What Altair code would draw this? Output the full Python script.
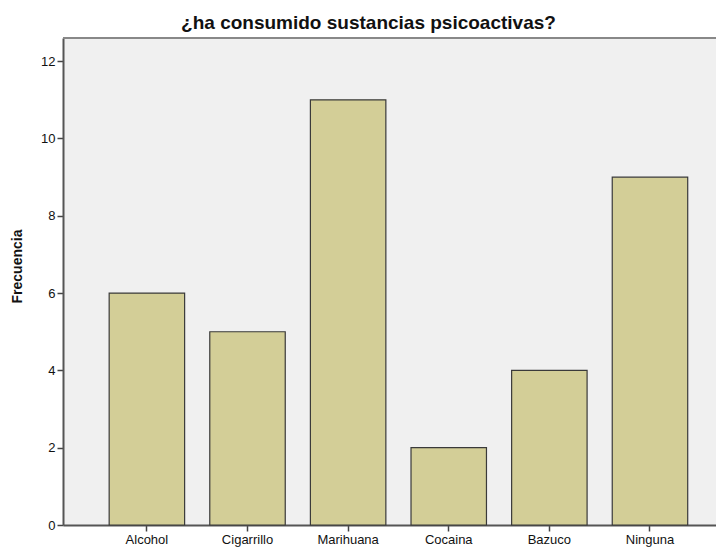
import altair as alt
import pandas as pd

categories = ["Alcohol", "Cigarrillo", "Marihuana", "Cocaina", "Bazuco", "Ninguna"]
frecuencia = [6, 5, 11, 2, 4, 9]
y_ticks = [0, 2, 4, 6, 8, 10, 12]

df = pd.DataFrame({"sustancia": categories, "frecuencia": frecuencia})

FONT = "Liberation Sans"

bars = alt.Chart(df).mark_bar(
    color="#d3ce97", stroke="#3a3a3a", strokeWidth=1.2
).encode(
    x=alt.X(
        "sustancia:N",
        sort=categories,
        title=None,
        scale=alt.Scale(paddingInner=0.25, paddingOuter=0.37, align=0.62),
        axis=alt.Axis(
            labelAngle=0, labelFont=FONT, labelFontSize=13, labelColor="#111",
            tickColor="#444", tickSize=6, tickWidth=1.5,
            domainColor="#555", domainWidth=2, labelPadding=2,
        ),
    ),
    y=alt.Y(
        "frecuencia:Q",
        title="Frecuencia",
        scale=alt.Scale(domain=[0, 12.6], nice=False),
        axis=alt.Axis(
            values=y_ticks, grid=False, labelFont=FONT, labelFontSize=13,
            labelColor="#111", tickColor="#444", tickSize=6, tickWidth=1.5,
            domainColor="#555", domainWidth=2, labelPadding=2,
            titleFont=FONT, titleFontSize=14, titleFontWeight="bold",
            titleColor="#111", titlePadding=16, titleY=228,
        ),
    ),
)

top_line = alt.Chart(df).mark_rule(color="#888", strokeWidth=2).encode(
    x=alt.value(0), x2=alt.value(653), y=alt.value(0)
)

chart = alt.layer(bars, top_line).properties(
    width=653,
    height=487,
    autosize=alt.AutoSizeParams(type="none"),
    padding={"left": 55, "top": 30, "right": 0, "bottom": 30},
    title=alt.TitleParams(
        "¿ha consumido sustancias psicoactivas?",
        font=FONT, fontSize=19, fontWeight="bold", color="#111",
        anchor="middle", dx=-21, offset=4,
    ),
).configure_view(
    fill="#f0f0f0", stroke=None
)

chart.save("out.html", embed_options={"renderer": "svg", "actions": False})
